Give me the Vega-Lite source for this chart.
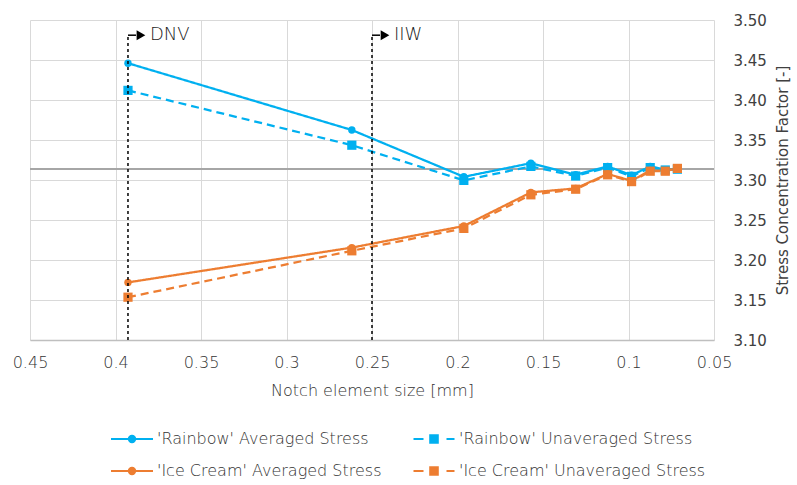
{
  "$schema": "https://vega.github.io/schema/vega-lite/v6.json",
  "width": 684,
  "height": 320,
  "autosize": "none",
  "padding": {"left": 30, "top": 20, "right": 83, "bottom": 145},
  "background": "white",
  "config": {
    "view": {"stroke": null},
    "font": "DejaVu Sans",
    "axisY": {
      "orient": "right",
      "values": [3.1, 3.15, 3.2, 3.25, 3.3, 3.35, 3.4, 3.45, 3.5],
      "format": ".2f",
      "grid": true, "gridColor": "#D9D9D9", "gridWidth": 1,
      "domain": false, "ticks": false,
      "labelFont": "DejaVu Sans", "labelFontSize": 15, "labelColor": "#404040", "labelPadding": 19,
      "labelFlush": false, "labelOverlap": false,
      "titleFont": "DejaVu Sans", "titleFontSize": 15, "titleColor": "#404040", "titleFontWeight": "normal",
      "titleAngle": 270, "titleBaseline": "top", "titlePadding": 9
    }
  },
  "datasets": {
    "scf": [
      {"size": 0.3927, "scf": 3.446, "series": "'Rainbow' Averaged Stress", "kind": "Averaged"},
      {"size": 0.2618, "scf": 3.3625, "series": "'Rainbow' Averaged Stress", "kind": "Averaged"},
      {"size": 0.1963, "scf": 3.304, "series": "'Rainbow' Averaged Stress", "kind": "Averaged"},
      {"size": 0.1571, "scf": 3.321, "series": "'Rainbow' Averaged Stress", "kind": "Averaged"},
      {"size": 0.1309, "scf": 3.3065, "series": "'Rainbow' Averaged Stress", "kind": "Averaged"},
      {"size": 0.1122, "scf": 3.317, "series": "'Rainbow' Averaged Stress", "kind": "Averaged"},
      {"size": 0.0982, "scf": 3.306, "series": "'Rainbow' Averaged Stress", "kind": "Averaged"},
      {"size": 0.0873, "scf": 3.317, "series": "'Rainbow' Averaged Stress", "kind": "Averaged"},
      {"size": 0.0785, "scf": 3.313, "series": "'Rainbow' Averaged Stress", "kind": "Averaged"},
      {"size": 0.0714, "scf": 3.314, "series": "'Rainbow' Averaged Stress", "kind": "Averaged"},
      {"size": 0.3927, "scf": 3.412, "series": "'Rainbow' Unaveraged Stress", "kind": "Unaveraged"},
      {"size": 0.2618, "scf": 3.3435, "series": "'Rainbow' Unaveraged Stress", "kind": "Unaveraged"},
      {"size": 0.1963, "scf": 3.2995, "series": "'Rainbow' Unaveraged Stress", "kind": "Unaveraged"},
      {"size": 0.1571, "scf": 3.317, "series": "'Rainbow' Unaveraged Stress", "kind": "Unaveraged"},
      {"size": 0.1309, "scf": 3.305, "series": "'Rainbow' Unaveraged Stress", "kind": "Unaveraged"},
      {"size": 0.1122, "scf": 3.3155, "series": "'Rainbow' Unaveraged Stress", "kind": "Unaveraged"},
      {"size": 0.0982, "scf": 3.3045, "series": "'Rainbow' Unaveraged Stress", "kind": "Unaveraged"},
      {"size": 0.0873, "scf": 3.3155, "series": "'Rainbow' Unaveraged Stress", "kind": "Unaveraged"},
      {"size": 0.0785, "scf": 3.3125, "series": "'Rainbow' Unaveraged Stress", "kind": "Unaveraged"},
      {"size": 0.0714, "scf": 3.3135, "series": "'Rainbow' Unaveraged Stress", "kind": "Unaveraged"},
      {"size": 0.3927, "scf": 3.172, "series": "'Ice Cream' Averaged Stress", "kind": "Averaged"},
      {"size": 0.2618, "scf": 3.2155, "series": "'Ice Cream' Averaged Stress", "kind": "Averaged"},
      {"size": 0.1963, "scf": 3.2425, "series": "'Ice Cream' Averaged Stress", "kind": "Averaged"},
      {"size": 0.1571, "scf": 3.2845, "series": "'Ice Cream' Averaged Stress", "kind": "Averaged"},
      {"size": 0.1309, "scf": 3.2895, "series": "'Ice Cream' Averaged Stress", "kind": "Averaged"},
      {"size": 0.1122, "scf": 3.3075, "series": "'Ice Cream' Averaged Stress", "kind": "Averaged"},
      {"size": 0.0982, "scf": 3.299, "series": "'Ice Cream' Averaged Stress", "kind": "Averaged"},
      {"size": 0.0873, "scf": 3.312, "series": "'Ice Cream' Averaged Stress", "kind": "Averaged"},
      {"size": 0.0785, "scf": 3.3115, "series": "'Ice Cream' Averaged Stress", "kind": "Averaged"},
      {"size": 0.0714, "scf": 3.3145, "series": "'Ice Cream' Averaged Stress", "kind": "Averaged"},
      {"size": 0.3927, "scf": 3.1535, "series": "'Ice Cream' Unaveraged Stress", "kind": "Unaveraged"},
      {"size": 0.2618, "scf": 3.2115, "series": "'Ice Cream' Unaveraged Stress", "kind": "Unaveraged"},
      {"size": 0.1963, "scf": 3.2395, "series": "'Ice Cream' Unaveraged Stress", "kind": "Unaveraged"},
      {"size": 0.1571, "scf": 3.2815, "series": "'Ice Cream' Unaveraged Stress", "kind": "Unaveraged"},
      {"size": 0.1309, "scf": 3.2885, "series": "'Ice Cream' Unaveraged Stress", "kind": "Unaveraged"},
      {"size": 0.1122, "scf": 3.3065, "series": "'Ice Cream' Unaveraged Stress", "kind": "Unaveraged"},
      {"size": 0.0982, "scf": 3.298, "series": "'Ice Cream' Unaveraged Stress", "kind": "Unaveraged"},
      {"size": 0.0873, "scf": 3.311, "series": "'Ice Cream' Unaveraged Stress", "kind": "Unaveraged"},
      {"size": 0.0785, "scf": 3.311, "series": "'Ice Cream' Unaveraged Stress", "kind": "Unaveraged"},
      {"size": 0.0714, "scf": 3.3145, "series": "'Ice Cream' Unaveraged Stress", "kind": "Unaveraged"}
    ],
    "marks": [
      {"code": "DNV", "size": 0.3927},
      {"code": "IIW", "size": 0.25}
    ],
    "ref": [{"scf": 3.3137}]
  },
  "encoding": {
    "x": {
      "field": "size", "type": "quantitative",
      "scale": {"domain": [0.05, 0.45], "reverse": true, "nice": false, "zero": false},
      "axis": {
        "title": "Notch element size [mm]",
        "values": [0.05, 0.1, 0.15, 0.2, 0.25, 0.3, 0.35, 0.4, 0.45],
        "format": ".2~f",
        "grid": true, "gridColor": "#D9D9D9", "gridWidth": 1,
        "domain": true, "domainColor": "#BFBFBF", "domainWidth": 1.5,
        "ticks": false,
        "labelFont": "DejaVu Sans ExtraLight, DejaVu Sans Light, DejaVu Sans", "labelFontWeight": 200,
        "labelFontSize": 16, "labelColor": "#333333", "labelPadding": 14,
        "labelFlush": false, "labelOverlap": false,
        "titleFont": "DejaVu Sans ExtraLight, DejaVu Sans Light, DejaVu Sans", "titleFontWeight": 200,
        "titleFontSize": 16, "titleColor": "#333333", "titlePadding": 12
      }
    }
  },
  "layer": [
    {
      "data": {"name": "ref"},
      "mark": {"type": "rule", "color": "#A6A6A6", "strokeWidth": 2},
      "encoding": {
        "x": null,
        "y": {
          "field": "scf", "type": "quantitative",
          "scale": {"domain": [3.1, 3.5], "nice": false, "zero": false},
          "title": "Stress Concentration Factor [-]"
        }
      }
    },
    {
      "data": {"name": "scf"},
      "mark": {"type": "line", "strokeWidth": 2.25},
      "encoding": {
        "y": {"field": "scf", "type": "quantitative", "title": "Stress Concentration Factor [-]"},
        "color": {
          "field": "series", "type": "nominal",
          "scale": {
            "domain": ["'Rainbow' Averaged Stress", "'Rainbow' Unaveraged Stress", "'Ice Cream' Averaged Stress", "'Ice Cream' Unaveraged Stress"],
            "range": ["#00B0F0", "#00B0F0", "#ED7D31", "#ED7D31"]
          },
          "legend": {
            "title": null,
            "orient": "none",
            "legendX": 91,
            "legendY": 408,
            "columns": 2,
            "direction": "horizontal",
            "columnPadding": 27,
            "rowPadding": 13,
            "padding": 0,
            "symbolSize": 400,
            "labelOffset": 14,
            "labelFont": "DejaVu Sans ExtraLight, DejaVu Sans Light, DejaVu Sans",
            "labelFontWeight": 200,
            "labelFontSize": 16,
            "labelColor": "#333333",
            "labelLimit": 400,
            "encode": {
              "symbols": {
                "update": {
                  "shape": {"signal": "indexof(datum.value, 'Unaveraged') >= 0 ? 'M-2.05,0L-1.05,0M-0.38,-0.38L0.38,-0.38L0.38,0.38L-0.38,0.38ZM1.25,0L2.05,0' : 'M-2.1,0L2.1,0M-0.32,0A0.32,0.32,0,1,0,0.32,0A0.32,0.32,0,1,0,-0.32,0Z'"},
                  "fill": {"scale": "color", "field": "value"},
                  "stroke": {"scale": "color", "field": "value"},
                  "strokeWidth": {"value": 2},
                  "strokeDash": {"value": []},
                  "opacity": {"value": 1}
                }
              }
            }
          }
        },
        "strokeDash": {
          "field": "kind", "type": "nominal",
          "scale": {"domain": ["Averaged", "Unaveraged"], "range": [[1, 0], [8, 5]]},
          "legend": null
        },
        "detail": {"field": "series"}
      }
    },
    {
      "data": {"name": "scf"},
      "mark": {"type": "point", "filled": true, "opacity": 1},
      "encoding": {
        "y": {"field": "scf", "type": "quantitative", "title": "Stress Concentration Factor [-]"},
        "color": {"field": "series", "type": "nominal", "legend": null},
        "shape": {
          "field": "kind", "type": "nominal",
          "scale": {"domain": ["Averaged", "Unaveraged"], "range": ["circle", "square"]},
          "legend": null
        },
        "size": {
          "field": "kind", "type": "nominal",
          "scale": {"domain": ["Averaged", "Unaveraged"], "range": [55, 85]},
          "legend": null
        }
      }
    },
    {
      "data": {"name": "marks"},
      "mark": {"type": "rule", "color": "#000000", "strokeWidth": 1.5, "strokeDash": [3, 3]},
      "encoding": {
        "y": {"datum": 3.1},
        "y2": {"datum": 3.481}
      }
    },
    {
      "data": {"name": "marks"},
      "mark": {"type": "rule", "color": "#000000", "strokeWidth": 1.5, "x2Offset": 8},
      "encoding": {
        "x2": {"field": "size"},
        "y": {"datum": 3.481}
      }
    },
    {
      "data": {"name": "marks"},
      "mark": {"type": "point", "shape": "triangle-right", "filled": true, "color": "#000000", "opacity": 1, "size": 100, "xOffset": 13},
      "encoding": {
        "y": {"datum": 3.481}
      }
    },
    {
      "data": {"name": "marks"},
      "mark": {"type": "text", "align": "left", "baseline": "middle", "font": "DejaVu Sans ExtraLight, DejaVu Sans Light, DejaVu Sans", "fontWeight": 200, "fontSize": 18, "color": "#1a1a1a", "xOffset": 22},
      "encoding": {
        "y": {"datum": 3.481},
        "text": {"field": "code"}
      }
    }
  ]
}
